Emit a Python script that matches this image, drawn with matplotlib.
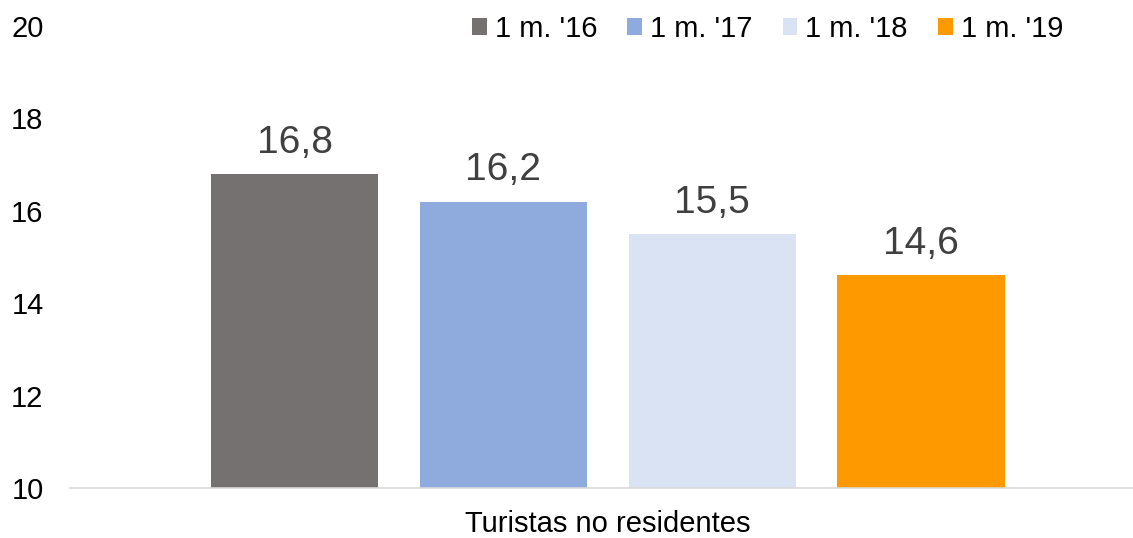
import matplotlib.pyplot as plt
import numpy as np

plt.rcParams['font.family'] = ['Liberation Sans', 'DejaVu Sans']

# Data
category = ["Turistas no residentes"]
series = ["1 m. '16", "1 m. '17", "1 m. '18", "1 m. '19"]
values = [16.8, 16.2, 15.5, 14.6]
labels = ["16,8", "16,2", "15,5", "14,6"]
colors = ["#767171", "#8FAADC", "#DAE3F3", "#FF9900"]

fig = plt.figure(figsize=(11.33, 5.38), dpi=100)
ax = fig.add_axes([70 / 1133, 50 / 538, 1063 / 1133, 462 / 538])

offsets = np.arange(len(series)) - 1.5
bar_width = 0.8

for i, (name, v, lab, c) in enumerate(zip(series, values, labels, colors)):
    ax.bar(offsets[i], v - 10, bottom=10, width=bar_width, color=c, label=name)
    ax.annotate(lab, xy=(offsets[i], v), xytext=(0, 9.5), textcoords="offset points",
                ha='center', va='bottom', fontsize=28, color='#404040')

ax.set_xlim(-2.575, 2.515)
ax.set_ylim(10, 20)
ax.set_yticks([10, 12, 14, 16, 18, 20])
ax.set_xticks([0])
ax.set_xticklabels(category, fontsize=21)
ax.tick_params(axis='y', labelsize=21, length=0, pad=19)
ax.tick_params(axis='x', length=0, pad=16)

for s in ['top', 'right', 'left']:
    ax.spines[s].set_visible(False)
ax.spines['bottom'].set_color('#D9D9D9')
ax.spines['bottom'].set_linewidth(1.2)

leg = ax.legend(loc='center right', bbox_to_anchor=(993 / 1063, 0.993), ncol=4,
                frameon=False, fontsize=21, handlelength=0.51, handleheight=0.51,
                handletextpad=0.27, columnspacing=1.03, borderpad=0, borderaxespad=0)

fig.savefig("out.png", dpi=100)
